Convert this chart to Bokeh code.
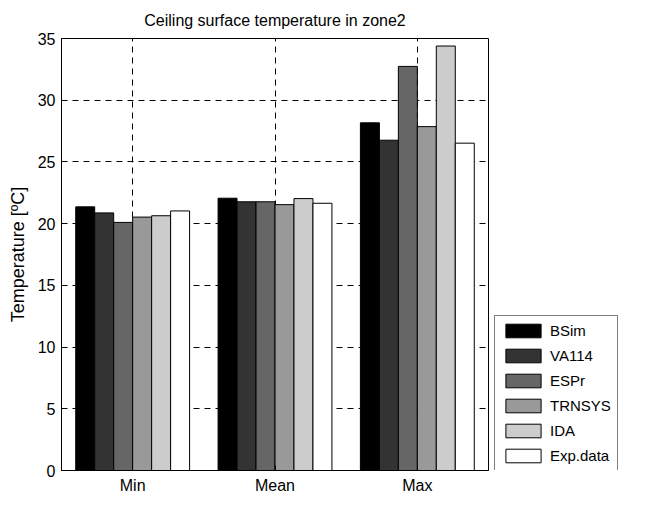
from bokeh.plotting import figure
from bokeh.models import Range1d, FactorRange, Legend, LegendItem, FixedTicker
from bokeh.layouts import row
from bokeh.transform import dodge
from bokeh.embed import file_html
from bokeh.resources import INLINE

categories = ["Min", "Mean", "Max"]
series_names = ["BSim", "VA114", "ESPr", "TRNSYS", "IDA", "Exp.data"]
bsim = [21.36, 22.06, 28.17]
va114 = [20.87, 21.77, 26.76]
espr = [20.10, 21.77, 32.74]
trnsys = [20.53, 21.54, 27.86]
ida = [20.64, 22.03, 34.39]
exp_data = [21.03, 21.65, 26.52]
colors = ["#000000", "#333333", "#666666", "#999999", "#cccccc", "#ffffff"]
y_ticks = [0, 5, 10, 15, 20, 25, 30, 35]

FONT = "Liberation Sans"

data = dict(cat=categories, BSim=bsim, VA114=va114, ESPr=espr,
            TRNSYS=trnsys, IDA=ida)
data["Exp.data"] = exp_data

p = figure(x_range=FactorRange(*categories), y_range=Range1d(0, 35),
           width=490, height=496, output_backend="svg",
           toolbar_location=None,
           title="Ceiling surface temperature in zone2",
           min_border_left=61, min_border_right=2, min_border_top=36,
           min_border_bottom=9)

p.title.text_font = FONT
p.title.text_font_size = "16px"
p.title.text_font_style = "normal"
p.title.text_color = "black"
p.title.align = "center"
p.title.standoff = 19

p.outline_line_color = "black"
p.outline_line_width = 1
p.background_fill_color = "white"

n = len(series_names)
bw = 0.8 / n
for i, name in enumerate(series_names):
    off = (i - (n - 1) / 2) * bw
    p.vbar(x=dodge("cat", off, range=p.x_range), top=name, width=bw,
           bottom=0, source=data, fill_color=colors[i],
           line_color="black", line_width=1)

for ax in [p.xaxis[0], p.yaxis[0]]:
    ax.major_tick_in = 5
    ax.major_tick_out = 0
    ax.minor_tick_line_color = None
    ax.axis_line_color = "black"
    ax.major_tick_line_color = "black"
    ax.major_label_text_font = FONT
    ax.major_label_text_font_size = "16px"
    ax.major_label_text_color = "black"
    ax.major_label_standoff = 6

p.yaxis[0].ticker = FixedTicker(ticks=y_ticks)
p.yaxis[0].axis_label = "Temperature [ºC]"
p.yaxis[0].axis_label_text_font = FONT
p.yaxis[0].axis_label_text_font_size = "18px"
p.yaxis[0].axis_label_text_font_style = "normal"
p.yaxis[0].axis_label_text_color = "black"
p.yaxis[0].axis_label_standoff = 7

p.xgrid.grid_line_color = "black"
p.xgrid.grid_line_dash = "6 5"
p.xgrid.grid_line_width = 1
p.ygrid.grid_line_color = "black"
p.ygrid.grid_line_dash = "6 5"
p.ygrid.grid_line_width = 1
p.ygrid.ticker = FixedTicker(ticks=y_ticks[1:-1])

# legend panel (legend proxies are hidden renderers; only the legend is drawn)
lp = figure(width=146, height=496, output_backend="svg", toolbar_location=None,
            x_range=Range1d(0, 1), y_range=Range1d(0, 1),
            x_axis_type=None, y_axis_type=None,
            min_border_left=0, min_border_right=0, min_border_top=0,
            min_border_bottom=0)
lp.grid.visible = False
lp.outline_line_color = None
items = []
for i, name in enumerate(series_names):
    r = lp.vbar(x=[0], top=[0], width=0.1, fill_color=colors[i],
                line_color="black", line_width=1, visible=False)
    items.append(LegendItem(label=name, renderers=[r]))

legend = Legend(items=items, location=(4, -1))
legend.label_text_font = FONT
legend.label_text_font_size = "15px"
legend.label_text_color = "black"
legend.glyph_width = 44
legend.glyph_height = 17
legend.label_height = 17
legend.spacing = 8
legend.padding = 6
legend.margin = 0
legend.border_line_color = "black"
legend.border_line_width = 1
legend.label_standoff = 5
legend.background_fill_color = "white"
legend.background_fill_alpha = 1
legend.inactive_fill_alpha = 0
lp.add_layout(legend, "center")

layout = row(p, lp)
open("out.html", "w").write(file_html(layout, INLINE))
